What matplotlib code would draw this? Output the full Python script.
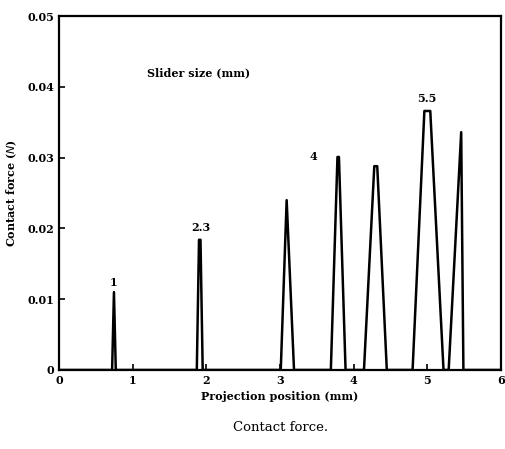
import matplotlib.pyplot as plt

# peak outlines
pos = [0, 0.72, 0.745, 0.77, 1.87, 1.90, 1.92, 1.95, 3.01, 3.09, 3.19,
       3.69, 3.78, 3.80, 3.89, 4.14, 4.28, 4.32, 4.45,
       4.80, 4.96, 5.04, 5.22, 5.29, 5.46, 5.49, 6.0]
force = [0, 0, 0.011, 0, 0, 0.0184, 0.0184, 0, 0, 0.024, 0,
         0, 0.0301, 0.0301, 0, 0, 0.0288, 0.0288, 0,
         0, 0.0366, 0.0366, 0, 0, 0.0336, 0, 0]

labels = ["1", "2.3", "4", "5.5"]
label_x = [0.74, 1.92, 3.45, 4.99]
label_y = [0.0123, 0.0201, 0.0301, 0.0384]

plt.rcParams['font.family'] = 'DejaVu Serif'

fig = plt.figure(figsize=(5.05, 4.49), dpi=100)
ax = fig.add_axes([0.117, 0.176, 0.875, 0.788])

ax.plot(pos, force, color='black', lw=1.8)

for t, x, y in zip(labels, label_x, label_y):
    ax.text(x, y, t, ha='center', va='center', fontsize=8, fontweight='bold')

ax.text(1.2, 0.042, "Slider size (mm)", fontsize=8, fontweight='bold', va='center')

ax.set_xlim(0, 6)
ax.set_ylim(0, 0.05)
ax.set_xticks([0, 1, 2, 3, 4, 5, 6])
ax.set_yticks([0, 0.01, 0.02, 0.03, 0.04, 0.05])
ax.set_yticklabels(["0", "0.01", "0.02", "0.03", "0.04", "0.05"])
ax.tick_params(direction='in', length=4, width=1.2, labelsize=8)
for lab in ax.get_xticklabels() + ax.get_yticklabels():
    lab.set_fontweight('bold')
for s in ax.spines.values():
    s.set_linewidth(1.6)

ax.set_xlabel("Projection position (mm)", fontsize=8, fontweight='bold', labelpad=4)
ax.set_ylabel(r"Contact force ($\mathit{N}$)", fontsize=8, fontweight='bold', labelpad=6)

fig.text(0.555, 0.047, "Contact force.", ha='center', va='center', fontsize=9.5)

fig.savefig("out.png", dpi=100)
